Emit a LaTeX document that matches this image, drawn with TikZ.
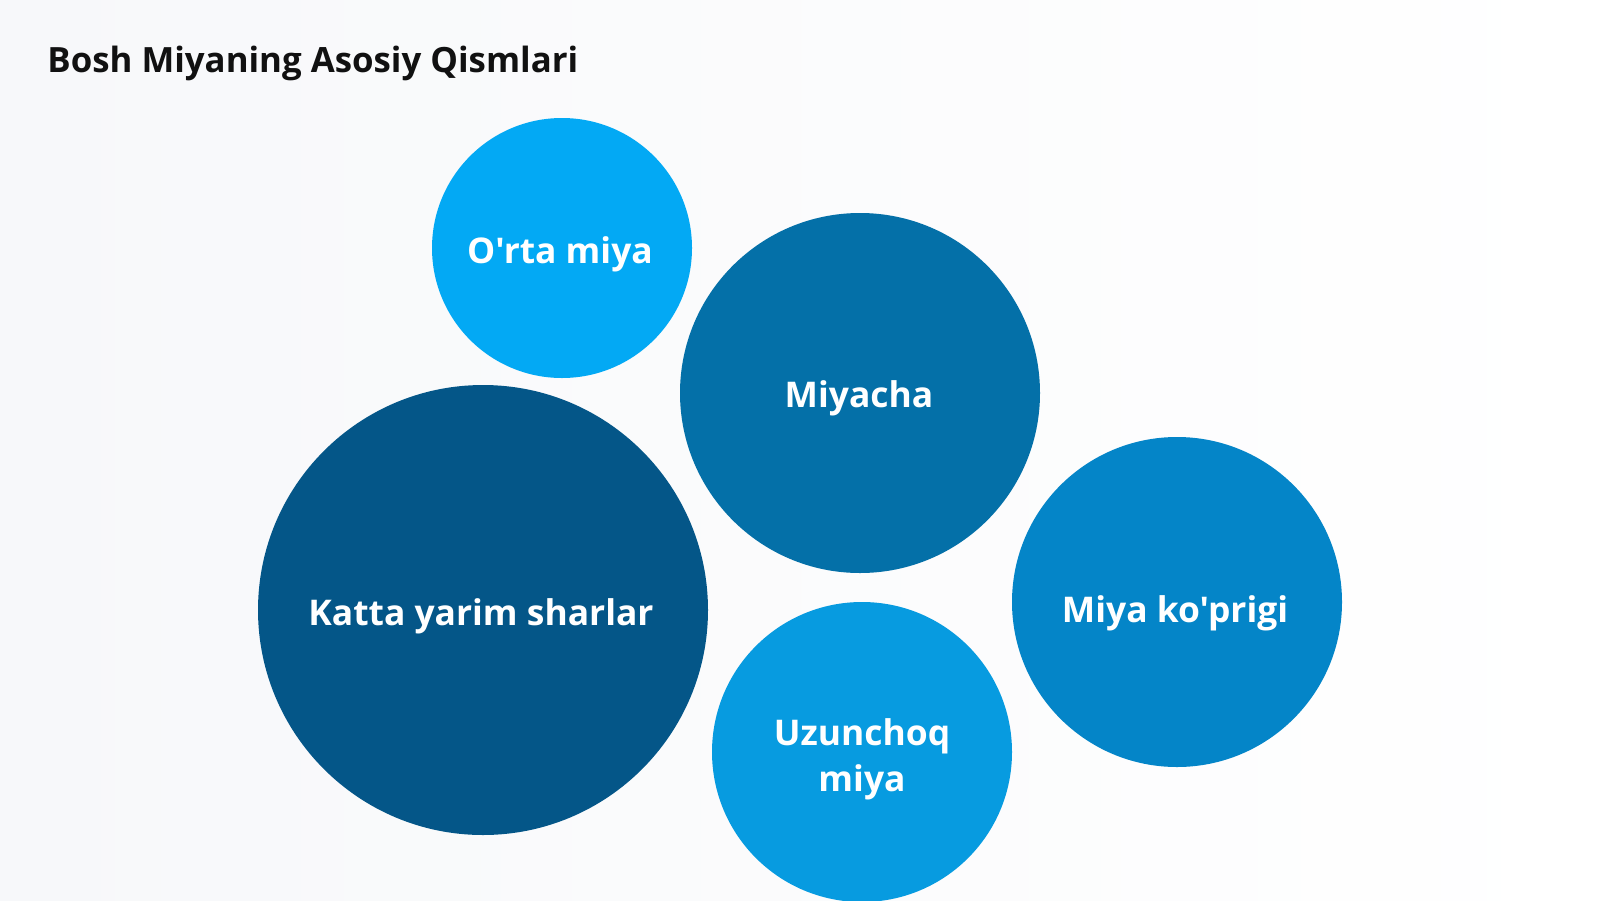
\documentclass[tikz,border=0pt]{standalone}
\usepackage{fontspec}
\newfontfamily\nsb{Open Sans}
\definecolor{bgL}{HTML}{F7F8FA}
\definecolor{bgR}{HTML}{FFFFFF}
\definecolor{cOrta}{HTML}{03A9F4}
\definecolor{cUzun}{HTML}{079BE0}
\definecolor{cKop}{HTML}{0485C8}
\definecolor{cMiyacha}{HTML}{0470A8}
\definecolor{cKatta}{HTML}{045688}
\definecolor{titlecol}{HTML}{111111}
\tikzset{
  bubble/.style={circle, inner sep=0pt, draw=none},
  blabel/.style={anchor=base, text=white, font=\nsb\bfseries\fontsize{17.7}{24}\selectfont, align=center},
}
\begin{document}
\begin{tikzpicture}[x=0.5pt,y=-0.5pt]
\shade[left color=bgL, right color=bgR] (0,0) rectangle (1600,900);
\useasboundingbox (0,0) rectangle (1600,900);
\node[anchor=base west, text=titlecol, font=\nsb\bfseries\fontsize{17.4}{20}\selectfont, inner sep=0pt] (title) at (47,72) {Bosh Miyaning Asosiy Qismlari};
\node[bubble, fill=cOrta, minimum size=130pt] (orta) at (562,248) {};
\node[bubble, fill=cMiyacha, minimum size=180pt] (miyacha) at (860,393) {};
\node[bubble, fill=cKatta, minimum size=225pt] (katta) at (483,610) {};
\node[bubble, fill=cKop, minimum size=165pt] (kop) at (1177,602) {};
\node[bubble, fill=cUzun, minimum size=150pt] (uzun) at (862,752) {};
\node[blabel] (tOrta) at (560,263) {O'rta miya};
\node[blabel] (tMiyacha) at (859,407) {Miyacha};
\node[blabel] (tKatta) at (481,625) {Katta yarim sharlar};
\node[blabel] (tKop) at (1175,622) {Miya ko'prigi};
\node[blabel] (tUzun1) at (862,745) {Uzunchoq};
\node[blabel] (tUzun2) at (862,791) {miya};
\end{tikzpicture}
\end{document}
